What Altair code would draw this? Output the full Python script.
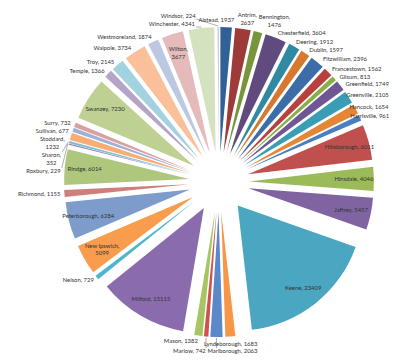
import math
import altair as alt
import pandas as pd

towns = ["Alstead", "Antrim", "Bennington", "Chesterfield", "Deering", "Dublin",
         "Fitzwilliam", "Francestown", "Gilsum", "Greenfield", "Greenville", "Hancock",
         "Harrisville", "Hillsborough", "Hinsdale", "Jaffrey", "Keene", "Lyndeborough",
         "Marlborough", "Marlow", "Mason", "Milford", "Nelson", "New Ipswich",
         "Peterborough", "Richmond", "Rindge", "Roxbury", "Sharon", "Stoddard",
         "Sullivan", "Surry", "Swanzey", "Temple", "Troy", "Walpole", "Westmoreland",
         "Wilton", "Winchester", "Windsor"]
population = [1937, 2637, 1476, 3604, 1912, 1597, 2396, 1562, 813, 1749, 2105, 1654,
              961, 6011, 4046, 5457, 23409, 1683, 2063, 742, 1382, 15115, 729, 5099,
              6284, 1155, 6014, 229, 352, 1232, 677, 732, 7230, 1366, 2145, 3734, 1874,
              3677, 4341, 224]
colors = ["#2F6196", "#9E3B38", "#77963C", "#604A7E", "#2F8AA1", "#D7782F",
          "#3C6DA9", "#B6413E", "#88AE48", "#6F5796", "#3A9DB6", "#E58635",
          "#4A7EC0", "#C0504D", "#9BBB59", "#8064A2", "#4BA6C1", "#F79646",
          "#5A88C8", "#D0524E", "#A6C563", "#8A6BAE", "#4FB5CF", "#F89C4E",
          "#7E9CCB", "#CD7F7C", "#AFC77D", "#9C87B6", "#7DC0D3", "#F9AD75",
          "#9EB2D8", "#D9A09E", "#BED192", "#B3A4C8", "#A2D1DF", "#FAC09A",
          "#BCC8E2", "#E4BBBA", "#D5E2C0", "#C9BEDA"]
inside_labels = ["Hillsborough", "Hinsdale", "Jaffrey", "Keene", "Milford",
                 "New Ipswich", "Peterborough", "Rindge", "Swanzey", "Wilton"]
two_line_labels = ["Antrim", "Bennington", "New Ipswich", "Sharon", "Stoddard", "Wilton"]

# ---- geometry / layout settings ----
W, H = 384, 348
CX, CY = 211.0, 174.0
R = 125.0
EXPLODE = 30.0
FS = 5.9
LH = 7.6
BH = 6.6
TOTAL = float(sum(population))


def char_w(ch):
    if ch.isdigit():
        return 0.58
    if ch in ",. ":
        return 0.23
    if ch in "iljI":
        return 0.26
    if ch in "frt":
        return 0.36
    if ch in "mwMW":
        return 0.84
    if ch.isupper():
        return 0.68
    return 0.53


def text_w(s):
    return sum(char_w(c) for c in s) * FS


slices = []
cum = 0.0
for t, v in zip(towns, population):
    a0 = cum / TOTAL * 360.0
    a1 = (cum + v) / TOTAL * 360.0
    mid = math.radians((a0 + a1) / 2)
    ax = CX + EXPLODE * math.sin(mid)
    ay = CY - EXPLODE * math.cos(mid)
    slices.append(dict(town=t, pop=v, start=cum, end=cum + v, a0=a0, a1=a1,
                       mid=mid, midd=(a0 + a1) / 2, apx=ax, apy=ay))
    cum += v


def in_slice(px, py, sl):
    dx, dy = px - sl["apx"], py - sl["apy"]
    if dx * dx + dy * dy > (R + 1.5) ** 2:
        return False
    ang = math.degrees(math.atan2(dx, -dy)) % 360.0
    return sl["a0"] - 0.8 <= ang <= sl["a1"] + 0.8


def in_any_slice(px, py):
    return any(in_slice(px, py, sl) for sl in slices)


placed = []
text_rows = []
leaders = []


def make_lines(sl):
    if sl["town"] in two_line_labels:
        return [sl["town"] + ",", str(sl["pop"])]
    return [sl["town"] + ", " + str(sl["pop"])]


def box_h(n):
    return BH + LH * (n - 1)


def add_text(lines, cx, cy):
    n = len(lines)
    for i, l in enumerate(lines):
        ly = cy + (i - (n - 1) / 2) * LH
        text_rows.append(dict(text=l, x=cx, y=ly))


for sl in slices:
    if sl["town"] in inside_labels:
        lines = make_lines(sl)
        w = max(text_w(l) for l in lines)
        h = box_h(len(lines))
        cx = sl["apx"] + 0.84 * R * math.sin(sl["mid"])
        cy = sl["apy"] - 0.84 * R * math.cos(sl["mid"])
        placed.append((cx - w / 2, cy - h / 2, cx + w / 2, cy + h / 2))
        add_text(lines, cx, cy)


def box_ok(b, check_slices=True):
    x0, y0, x1, y1 = b
    if x0 < 1 or y0 < 0.5 or x1 > W - 2 or y1 > H - 1:
        return False
    for p in placed:
        if not (x1 + 1.5 < p[0] or x0 - 1.5 > p[2] or y1 + 0.8 < p[1] or y0 - 0.8 > p[3]):
            return False
    if check_slices:
        for fx in (0.0, 0.25, 0.5, 0.75, 1.0):
            for fy in (0.0, 0.5, 1.0):
                if in_any_slice(x0 + fx * (x1 - x0), y0 + fy * (y1 - y0)):
                    return False
    return True


outside = [sl for sl in slices if sl["town"] not in inside_labels]
groups = [
    (sorted([s for s in outside if 30 <= s["midd"] < 180], key=lambda s: s["midd"]), "down"),
    (sorted([s for s in outside if s["midd"] < 30], key=lambda s: -s["midd"]), "up"),
    (sorted([s for s in outside if 180 <= s["midd"] < 330], key=lambda s: -s["midd"]), "down"),
    (sorted([s for s in outside if s["midd"] >= 330], key=lambda s: s["midd"]), "up"),
]

for group, direction in groups:
    for sl in group:
        lines = make_lines(sl)
        w = max(text_w(l) for l in lines)
        h = box_h(len(lines))
        s, c = math.sin(sl["mid"]), math.cos(sl["mid"])
        r0 = R + EXPLODE + 4
        nx, ny = CX + r0 * s, CY - r0 * c
        if s > 0.08:
            base = (nx, ny - h / 2)
        elif s < -0.08:
            base = (nx - w, ny - h / 2)
        else:
            base = (nx - w / 2, ny - h if c > 0 else ny)
        cands = []
        for dy in range(-80, 81):
            back = (dy < 0) if direction == "down" else (dy > 0)
            if back and abs(dy) > 8:
                continue
            for dx in range(-80, 81, 2):
                cost = abs(dy) * (2.5 if back else 1.0)
                inward = (s > 0.08 and dx < 0) or (s < -0.08 and dx > 0)
                cost += abs(dx) * (1.6 if inward else 1.0)
                cands.append((cost, dx, dy))
        cands.sort()
        chosen = None
        for check in (True, False):
            for cost, dx, dy in cands:
                b = (base[0] + dx, base[1] + dy, base[0] + dx + w, base[1] + dy + h)
                if box_ok(b, check):
                    chosen = (b, dx, dy)
                    break
            if chosen:
                break
        if chosen is None:
            b = (base[0], base[1], base[0] + w, base[1] + h)
            dx = dy = 0
        else:
            b, dx, dy = chosen
        placed.append(b)
        cx, cy = (b[0] + b[2]) / 2, (b[1] + b[3]) / 2
        add_text(lines, cx, cy)
        if math.hypot(dx, dy) > 3:
            tx = sl["apx"] + (R + 1) * s
            ty = sl["apy"] - (R + 1) * c
            ex = min(max(tx, b[0] - 1), b[2] + 1)
            ey = min(max(ty, b[1]), b[3])
            if math.hypot(ex - tx, ey - ty) > 4:
                leaders.append(dict(x=tx, y=ty, x2=ex, y2=ey))


def to_u(px, py):
    return (px - CX) / R, (py - CY) / R


slice_df = pd.DataFrame([
    dict(town=sl["town"], pop=sl["pop"], start=sl["start"], end=sl["end"],
         ux=to_u(sl["apx"], sl["apy"])[0], uy=to_u(sl["apx"], sl["apy"])[1])
    for sl in slices])
label_df = pd.DataFrame([
    dict(text=t["text"], ux=to_u(t["x"], t["y"])[0], uy=to_u(t["x"], t["y"])[1])
    for t in text_rows])
leader_df = pd.DataFrame([
    dict(ux=to_u(l["x"], l["y"])[0], uy=to_u(l["x"], l["y"])[1],
         ux2=to_u(l["x2"], l["y2"])[0], uy2=to_u(l["x2"], l["y2"])[1]) for l in leaders])

xs = alt.Scale(domain=[-1, 1], range=[CX - R, CX + R], nice=False, zero=False)
ys = alt.Scale(domain=[-1, 1], range=[CY - R, CY + R], nice=False, zero=False)

pie = alt.Chart(slice_df).mark_arc(radius=R).encode(
    theta=alt.Theta("start:Q", scale=alt.Scale(domain=[0, TOTAL], range=[0, 2 * math.pi]), stack=None),
    theta2="end:Q",
    x=alt.X("ux:Q", scale=xs, axis=None),
    y=alt.Y("uy:Q", scale=ys, axis=None),
    color=alt.Color("town:N", scale=alt.Scale(domain=towns, range=colors), legend=None),
)

lead = alt.Chart(leader_df).mark_rule(color="#8c8c8c", strokeWidth=0.7).encode(
    x=alt.X("ux:Q", scale=xs, axis=None),
    y=alt.Y("uy:Q", scale=ys, axis=None),
    x2="ux2:Q",
    y2="uy2:Q",
)

text = alt.Chart(label_df).mark_text(
    font="Lato", fontSize=FS, color="#333333", align="center", baseline="middle",
).encode(
    x=alt.X("ux:Q", scale=xs, axis=None),
    y=alt.Y("uy:Q", scale=ys, axis=None),
    text="text:N",
)

chart = alt.layer(pie, lead, text).properties(
    width=W, height=H, padding=0, autosize=alt.AutoSizeParams(type="none"),
    background="white",
).configure_view(strokeWidth=0)

chart.save("out.html", embed_options={"renderer": "svg", "actions": False})
